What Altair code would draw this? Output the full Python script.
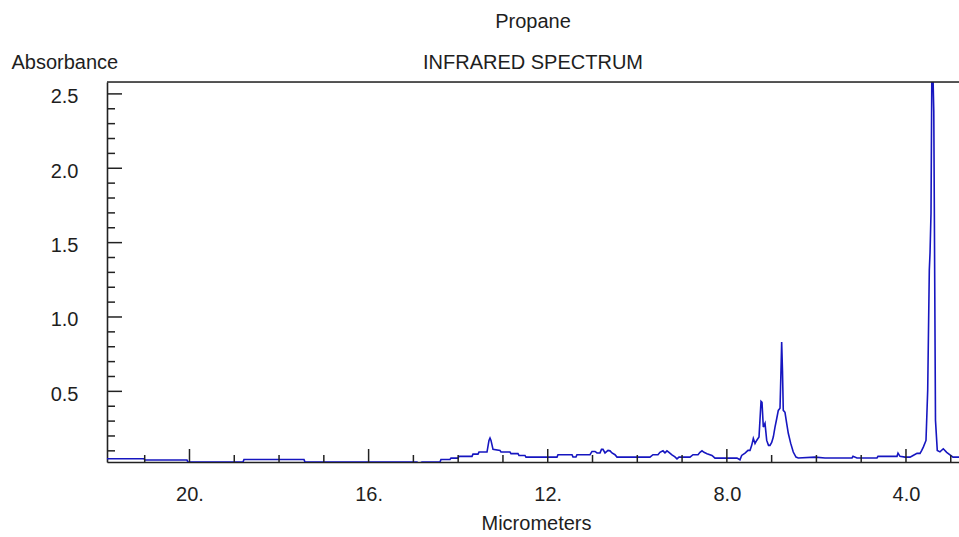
import altair as alt
import pandas as pd

# Propane IR spectrum: wavelength (micrometers) vs absorbance
wavelength_um = [
    21.842, 21.016, 20.994, 20.056, 20.033, 18.805, 18.783, 17.443, 17.421, 14.920,
    14.875, 14.808, 14.406, 14.384, 14.183, 14.161, 14.004, 13.982, 13.691, 13.669,
    13.557, 13.535, 13.356, 13.312, 13.289, 13.267, 13.222, 13.066, 13.044, 12.843,
    12.821, 12.664, 12.642, 12.508, 12.486, 11.793, 11.771, 11.458, 11.436, 11.369,
    11.347, 11.056, 11.011, 10.944, 10.900, 10.833, 10.799, 10.766, 10.721, 10.654,
    10.609, 10.565, 10.498, 10.453, 9.717, 9.650, 9.538, 9.494, 9.427, 9.382,
    9.337, 9.293, 9.226, 9.159, 9.114, 9.069, 8.823, 8.756, 8.644, 8.600,
    8.555, 8.510, 8.443, 8.332, 8.265, 7.774, 7.707, 7.669, 7.594, 7.528,
    7.483, 7.445, 7.409, 7.371, 7.334, 7.282, 7.237, 7.215, 7.186, 7.148,
    7.110, 7.070, 7.037, 6.999, 6.963, 6.925, 6.887, 6.851, 6.813, 6.791,
    6.776, 6.758, 6.740, 6.702, 6.664, 6.628, 6.574, 6.517, 6.456, 6.405,
    6.032, 5.809, 5.205, 5.183, 5.094, 4.647, 4.625, 4.200, 4.178, 4.133,
    4.021, 3.909, 3.842, 3.753, 3.686, 3.648, 3.613, 3.553, 3.515, 3.479,
    3.463, 3.441, 3.423, 3.397, 3.379, 3.341, 3.301, 3.241, 3.167, 3.091,
    3.017, 2.950, 2.816,
]
absorbance = [
    0.047, 0.047, 0.038, 0.038, 0.024, 0.024, 0.042, 0.042, 0.024, 0.024,
    0.016, 0.024, 0.024, 0.042, 0.042, 0.051, 0.051, 0.063, 0.063, 0.078,
    0.078, 0.092, 0.092, 0.170, 0.186, 0.170, 0.110, 0.103, 0.092, 0.092,
    0.081, 0.081, 0.069, 0.069, 0.058, 0.058, 0.074, 0.074, 0.059, 0.059,
    0.074, 0.074, 0.096, 0.096, 0.086, 0.086, 0.110, 0.110, 0.086, 0.103,
    0.100, 0.086, 0.074, 0.058, 0.058, 0.074, 0.074, 0.090, 0.100, 0.086,
    0.100, 0.090, 0.073, 0.059, 0.046, 0.058, 0.058, 0.074, 0.074, 0.090,
    0.100, 0.090, 0.081, 0.069, 0.051, 0.051, 0.040, 0.069, 0.085, 0.103,
    0.103, 0.137, 0.184, 0.150, 0.170, 0.193, 0.433, 0.426, 0.260, 0.285,
    0.170, 0.137, 0.137, 0.157, 0.193, 0.260, 0.316, 0.372, 0.386, 0.642,
    0.832, 0.642, 0.372, 0.359, 0.285, 0.218, 0.150, 0.092, 0.058, 0.052,
    0.058, 0.052, 0.052, 0.063, 0.052, 0.052, 0.063, 0.063, 0.085, 0.063,
    0.058, 0.058, 0.069, 0.083, 0.083, 0.103, 0.125, 0.170, 0.507, 1.315,
    1.430, 1.699, 2.620, 2.620, 2.381, 0.305, 0.103, 0.093, 0.114, 0.090,
    0.073, 0.058, 0.058,
]

# Axis ticks and labels
x_major = [20, 16, 12, 8, 4]
x_major_labels = ["20.", "16.", "12.", "8.0", "4.0"]
x_minor = [21, 19, 18, 17, 15, 14, 13, 11, 10, 9, 7, 6, 5, 3]
y_major = [0.5, 1.0, 1.5, 2.0, 2.5]
y_minor = [0.1, 0.2, 0.3, 0.4, 0.6, 0.7, 0.8, 0.9, 1.1, 1.2, 1.3, 1.4,
           1.6, 1.7, 1.8, 1.9, 2.1, 2.2, 2.3, 2.4]

W, H = 852, 380
FONT = "Liberation Sans"
TEXT = "#1e1e1e"
FRAME = "#222222"
LINE = "#1616c0"

xscale = alt.Scale(domain=[2.816, 21.842], reverse=True, nice=False, zero=False)
yscale = alt.Scale(domain=[0.025, 2.58], nice=False, zero=False)

label_expr = "''"
for v, lab in reversed(list(zip(x_major, x_major_labels))):
    label_expr = f"datum.value == {v} ? '{lab}' : ({label_expr})"

x_axis = alt.Axis(
    values=x_major, labelExpr=label_expr, ticks=False, tickSize=0, grid=False,
    domainColor=FRAME, domainWidth=1.6,
    labelFont=FONT, labelFontSize=20, labelColor=TEXT, labelPadding=38,
    labelBaseline="alphabetic", labelFlush=False, labelOverlap=False,
    title="Micrometers", titleFont=FONT, titleFontSize=20, titleFontWeight="normal",
    titleColor=TEXT, titleX=429, titleY=67, titleBaseline="alphabetic",
)
y_axis = alt.Axis(
    values=y_major, format=".1f", ticks=False, tickSize=0, grid=False,
    domainColor=FRAME, domainWidth=1.6,
    labelFont=FONT, labelFontSize=20, labelColor=TEXT, labelPadding=29,
    labelBaseline="alphabetic", labelOffset=9, labelFlush=False, labelOverlap=False,
    title="Absorbance", titleFont=FONT, titleFontSize=20, titleFontWeight="normal",
    titleColor=TEXT, titleAngle=0, titleAlign="left", titleBaseline="alphabetic",
    titleX=-96, titleY=-14,
)

spectrum = alt.Chart(pd.DataFrame({"um": wavelength_um, "abs": absorbance})).mark_line(
    color=LINE, strokeWidth=1.6, clip=True
).encode(
    x=alt.X("um:Q", scale=xscale, axis=x_axis),
    y=alt.Y("abs:Q", scale=yscale, axis=y_axis),
)


# Inward tick marks along the bottom and left frame edges
def x_ticks(values, length):
    return alt.Chart(pd.DataFrame({"um": values})).mark_rule(
        color=FRAME, strokeWidth=1.5
    ).encode(
        x=alt.X("um:Q", scale=xscale),
        y=alt.value(H),
        y2=alt.value(H - length),
    )


def y_ticks(values, length):
    return alt.Chart(pd.DataFrame({"abs": values})).mark_rule(
        color=FRAME, strokeWidth=1.5
    ).encode(
        y=alt.Y("abs:Q", scale=yscale),
        x=alt.value(0),
        x2=alt.value(length),
    )


top_edge = alt.Chart(pd.DataFrame({"t": [0]})).mark_rule(
    color=FRAME, strokeWidth=1.6
).encode(x=alt.value(0), x2=alt.value(W), y=alt.value(0))

chart = alt.layer(
    spectrum,
    x_ticks(x_minor, 7), x_ticks(x_major, 13),
    y_ticks(y_minor, 8), y_ticks(y_major, 15),
    top_edge,
).properties(
    width=W,
    height=H,
    padding={"left": 107, "top": 82, "right": 0, "bottom": 75},
    autosize=alt.AutoSizeParams(type="none"),
    title=alt.TitleParams(
        text="Propane", subtitle="INFRARED SPECTRUM", anchor="middle", frame="group",
        offset=-20.5, subtitlePadding=20.8,
        font=FONT, fontSize=20, fontWeight="normal", color=TEXT,
        subtitleFont=FONT, subtitleFontSize=20, subtitleColor=TEXT,
    ),
).configure_view(stroke=None).configure(background="white")

chart.save("out.html", embed_options={"renderer": "svg", "actions": False})
